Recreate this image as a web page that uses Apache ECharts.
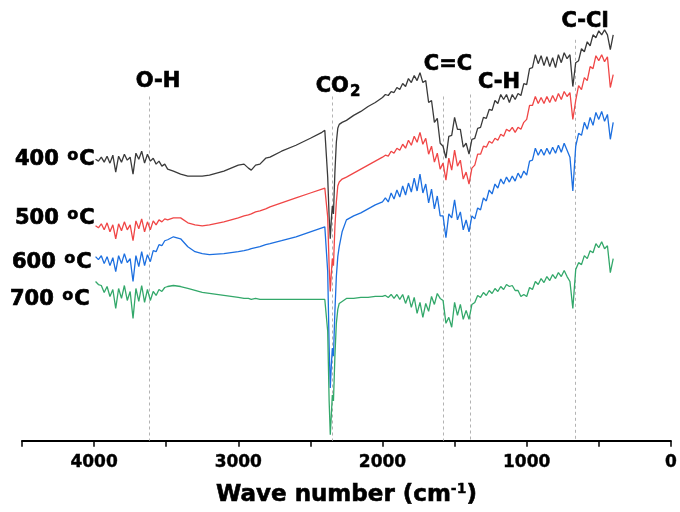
<!DOCTYPE html>
<html>
<head>
<meta charset="utf-8">
<script src="https://cdn.jsdelivr.net/npm/echarts@6/dist/echarts.min.js"></script>
<style>
  html, body { margin: 0; padding: 0; background: #fff; }
  #chart { width: 680px; height: 512px; }
</style>
</head>
<body>
<div id="chart"></div>
<script>
// wave numbers (cm-1), shared by the four spectra
var waveNumbers = [
  3990, 3970, 3950, 3930, 3910, 3890, 3870, 3850, 3830, 3810, 3790, 3770, 3750, 3730, 3710, 3690, 3670, 3650, 3630, 3610, 3590, 3570, 3550, 3530, 3510, 3490,
  3450, 3400, 3350, 3300, 3250, 3200, 3100, 3000, 2960, 2930, 2910, 2880, 2850, 2810, 2780, 2700, 2600, 2500, 2420,
  2400, 2390, 2380, 2370, 2362, 2355, 2348, 2340, 2330, 2320, 2310, 2300, 2280,
  2250, 2200, 2150, 2100, 2050, 2000,
  1980, 1960, 1940, 1920, 1900, 1880, 1860, 1840, 1820, 1800,
  1780, 1760, 1740, 1720, 1700, 1680, 1660, 1640, 1620, 1600,
  1580, 1560, 1540, 1520, 1500, 1480, 1460, 1440, 1420, 1400,
  1380, 1360, 1340, 1320, 1300, 1280, 1260, 1240, 1220, 1200,
  1180, 1160, 1140, 1120, 1100, 1080, 1060, 1040, 1020, 1000,
  980, 960, 940, 920, 900, 880, 860, 840, 820, 800,
  780, 760, 740, 720, 700, 680, 660, 640, 620, 600,
  580, 560, 540, 520, 500, 480, 460, 440, 420, 400
];

// transmittance, arbitrary units (curves are offset, no y scale in the figure)
var t400 = [
  283, 281, 285, 280, 286, 279, 287, 270, 286, 280, 288, 282, 285, 268, 289, 283, 291, 279, 288, 281, 284, 278, 281, 276, 278, 273,
  271, 268, 266, 266, 266, 267, 271, 277, 278, 274, 272, 277, 278, 284, 285, 291, 297, 304, 310,
  312, 310, 265, 225, 203, 222, 236, 228, 270, 300, 314, 318, 320,
  322, 327, 331, 336, 340, 345,
  348, 347, 351, 350, 355, 353, 359, 356, 364, 360,
  367, 362, 370, 360, 362, 340, 342, 320, 324, 299,
  296, 284, 306, 307, 325, 313, 313, 295, 299, 288,
  303, 304, 314, 315, 325, 324, 333, 332, 342, 339,
  348, 343, 348, 340, 348, 343, 349, 347, 359, 358,
  374, 375, 388, 379, 387, 377, 386, 376, 385, 375,
  388, 380, 390, 384, 388, 356, 380, 382, 394, 391,
  401, 397, 408, 405, 412, 408, 413, 408, 393, 408
];
var t500 = [
  216, 214, 218, 212, 219, 210, 217, 203, 218, 211, 220, 212, 217, 201, 221, 213, 223, 210, 220, 212, 221, 217, 222, 220, 223, 222,
  224, 224, 219, 217, 216, 217, 220, 224, 226, 227, 228, 230, 231, 233, 235, 239, 244, 249, 253,
  254, 254, 225, 175, 150, 168, 183, 176, 215, 240, 256, 260, 263,
  265, 269, 273, 277, 281, 285,
  287, 286, 291, 289, 294, 292, 298, 294, 302, 297,
  306, 300, 310, 298, 304, 288, 296, 280, 289, 273,
  279, 262, 284, 272, 292, 276, 282, 263, 270, 258,
  274, 277, 288, 288, 296, 295, 301, 299, 304, 302,
  308, 306, 313, 311, 315, 310, 315, 313, 320, 323,
  337, 337, 346, 339, 345, 339, 346, 340, 347, 341,
  349, 343, 351, 346, 350, 323, 342, 357, 353, 365,
  362, 376, 374, 387, 382, 388, 381, 386, 355, 368
];
var t600 = [
  185, 182, 186, 178, 185, 176, 184, 170, 186, 178, 188, 179, 183, 160, 186, 175, 190, 176, 187, 180, 191, 190, 197, 196, 201, 202,
  205, 203, 195, 190, 188, 187, 188, 190, 191, 192, 193, 194, 195, 197, 198, 201, 205, 210, 214,
  215, 214, 170, 95, 53, 75, 93, 85, 130, 165, 185, 195, 210,
  222, 226, 229, 233, 237, 240,
  244, 240, 249, 243, 252, 245, 256, 247, 259, 250,
  264, 251, 268, 249, 258, 239, 253, 233, 246, 226,
  226, 204, 228, 224, 242, 222, 230, 212, 222, 210,
  226, 223, 234, 232, 244, 241, 252, 248, 258, 254,
  263, 258, 265, 260, 266, 261, 269, 264, 271, 267,
  281, 282, 294, 287, 293, 287, 294, 288, 295, 289,
  297, 290, 299, 292, 285, 251, 296, 309, 307, 320,
  313, 325, 317, 330, 323, 331, 321, 328, 303, 320
];
var t700 = [
  160, 157, 156, 149, 155, 145, 152, 133, 153, 143, 156, 141, 150, 123, 153, 140, 156, 139, 152, 141, 150, 146, 152, 150, 154, 155,
  156, 155, 153, 151, 149, 148, 146, 144, 143, 143, 142, 143, 142, 142, 142, 142, 142, 142, 142,
  142, 141, 110, 40, 6, 25, 46, 40, 85, 118, 132, 138, 140,
  143, 143, 144, 144, 145, 145,
  146, 144, 147, 143, 147, 142, 147, 138, 146, 134,
  144, 128, 139, 124, 138, 130, 145, 137, 148, 143,
  141, 118, 124, 114, 139, 126, 137, 122, 131, 122,
  137, 139, 146, 144, 149, 146, 151, 148, 153, 150,
  155, 152, 157, 155, 156, 151, 151, 145, 147, 145,
  154, 152, 160, 157, 163, 159, 165, 161, 167, 163,
  169, 165, 171, 165, 160, 133, 172, 179, 177, 186,
  183, 191, 189, 198, 194, 200, 193, 196, 169, 183
];

var seriesNames = ["400 °C", "500 °C", "600 °C", "700 °C"];
var seriesColors = ["#3a3a3a", "#f04646", "#1c6fe0", "#33a86a"];

// band assignments: wave number and top of the guide line
var bandWave = [3620, 2350, 1580, 1390, 665];
var bandTop = [346, 346, 346, 348, 403];

var chartDom = document.getElementById("chart");
var myChart = echarts.init(chartDom);

var FONT = '"DejaVu Sans", "Liberation Sans", Arial, sans-serif';

function pairs(values) {
  return waveNumbers.map(function (w, i) {
    return [w, values[i]];
  });
}

var allValues = [t400, t500, t600, t700];

var series = allValues.map(function (vals, i) {
  return {
    name: seriesNames[i],
    type: "line",
    data: pairs(vals),
    showSymbol: false,
    symbol: "none",
    lineStyle: { color: seriesColors[i], width: 1.3 },
    itemStyle: { color: seriesColors[i] },
    z: 3,
  };
});

series[0].markLine = {
  silent: true,
  symbol: ["none", "none"],
  label: { show: false },
  lineStyle: { color: "#b3b3b3", type: [3, 3], width: 1 },
  z: 1,
  data: bandWave.map(function (w, i) {
    return [{ coord: [w, bandTop[i]] }, { coord: [w, 0] }];
  }),
};

// heavy text: bold face plus a thin outline
function textEl(txt, x, y, align, rich) {
  var el = {
    type: "text",
    x: x,
    y: y,
    style: {
      text: txt,
      font: "bold 21px " + FONT,
      fill: "#000",
      align: align,
      verticalAlign: "middle",
    },
    z: 10,
  };
  if (rich) {
    el.style.rich = rich;
  } else {
    el.style.stroke = "#000";
    el.style.lineWidth = 0.7;
  }
  return el;
}

var degRich = {
  n: { fontFamily: FONT, fontWeight: "bold", fontSize: 21, fill: "#000", stroke: "#000", lineWidth: 0.7 },
  o: { fontFamily: FONT, fontWeight: "bold", fontSize: 16, fill: "#000", stroke: "#000", lineWidth: 0.6, padding: [0, 1, 9, 1] },
};
var subRich = {
  n: { fontFamily: FONT, fontWeight: "bold", fontSize: 21, fill: "#000", stroke: "#000", lineWidth: 0.7 },
  s: { fontFamily: FONT, fontWeight: "bold", fontSize: 15, fill: "#000", stroke: "#000", lineWidth: 0.6, padding: [10, 0, 0, 1] },
};

option = {
  animation: false,
  grid: { left: 22, right: 4, top: 0, bottom: 69 },
  xAxis: {
    type: "value",
    inverse: true,
    min: 0,
    max: 4500,
    interval: 500,
    axisLine: { lineStyle: { color: "#000", width: 2 } },
    axisTick: { show: true, inside: false, length: 6, lineStyle: { color: "#000", width: 1.5 } },
    splitLine: { show: false },
    axisLabel: {
      color: "#000",
      fontFamily: FONT,
      fontWeight: "bold",
      fontSize: 17,
      margin: 13,
      textBorderColor: "#000",
      textBorderWidth: 0.4,
      formatter: function (v) {
        return v % 1000 === 0 ? String(v) : "";
      },
    },
    name: "{a|Wave number (cm}{b|-1}{a|)}",
    nameLocation: "middle",
    nameGap: 42,
    nameTextStyle: {
      rich: {
        a: { fontFamily: FONT, fontWeight: "bold", fontSize: 23, color: "#000", textBorderColor: "#000", textBorderWidth: 0.6 },
        b: { fontFamily: FONT, fontWeight: "bold", fontSize: 14, color: "#000", textBorderColor: "#000", textBorderWidth: 0.4, padding: [0, 0, 11, 0] },
      },
    },
  },
  yAxis: { type: "value", min: 0, max: 443, show: false },
  series: series,
  graphic: [
    textEl("{n|400 }{o|o}{n|C}", 15, 160, "left", degRich),
    textEl("{n|500 }{o|o}{n|C}", 15, 219, "left", degRich),
    textEl("{n|600 }{o|o}{n|C}", 12, 263, "left", degRich),
    textEl("{n|700 }{o|o}{n|C}", 10, 300, "left", degRich),
    textEl("O-H", 158, 82, "center"),
    textEl("{n|CO}{s|2}", 338, 87, "center", subRich),
    textEl("C=C", 448, 65, "center"),
    textEl("C-H", 499, 83, "center"),
    textEl("C-Cl", 585, 22, "center"),
  ],
};

myChart.setOption(option);
</script>
</body>
</html>
